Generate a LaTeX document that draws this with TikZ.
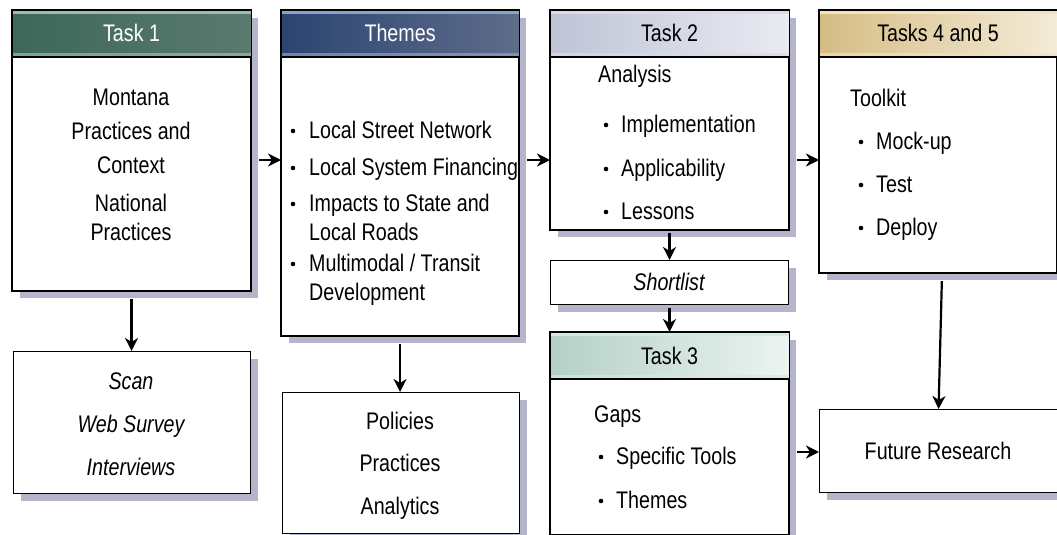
\documentclass[tikz,border=0pt]{standalone}
\usepackage{fontspec}
\setmainfont{Liberation Sans}[FakeStretch=0.82]
\usetikzlibrary{arrows.meta,shadows,calc}

\definecolor{shadowcol}{HTML}{B4B4CA}
\definecolor{tealL}{HTML}{3D6858}
\definecolor{tealR}{HTML}{5A7A70}
\definecolor{tealS}{HTML}{9DBBB2}
\definecolor{navyL}{HTML}{2B4571}
\definecolor{navyR}{HTML}{5F6C8A}
\definecolor{navyS}{HTML}{8CA3C8}
\definecolor{greyL}{HTML}{BFC3D5}
\definecolor{greyR}{HTML}{EAEBF2}
\definecolor{greyS}{HTML}{D9DCE8}
\definecolor{sandL}{HTML}{D5BC84}
\definecolor{sandR}{HTML}{F4ECD8}
\definecolor{sandS}{HTML}{F1E3C0}
\definecolor{mintL}{HTML}{B4D0C6}
\definecolor{mintR}{HTML}{ECF4F1}
\definecolor{mintS}{HTML}{D6E8E2}

\tikzset{
  boxnode/.style={draw=black, line width=1.1pt, fill=white, anchor=north west,
    inner sep=0pt, general shadow={fill=shadowcol, shadow xshift=7pt, shadow yshift=-7pt}},
  txt/.style={font=\fontsize{24}{28}\selectfont, inner sep=0pt},
  itxt/.style={txt, font=\fontsize{24}{28}\selectfont\itshape},
  hdr/.style={font=\fontsize{24}{28}\selectfont, inner sep=0pt, anchor=base},
  dot/.style={circle, fill=black, inner sep=0pt, minimum size=4.6pt},
  arr/.style={line width=2.2pt, -{Stealth[length=13pt, width=13pt, inset=4pt]}}
}

% header band of a task box: node, left colour, right colour, strip colour, title, title colour
\newcommand\hdrband[6]{%
  \fill[left color=#2, right color=#3] (#1.north west) rectangle ([yshift=-47pt]#1.north east);
  \fill[#4] (#1.north west) rectangle ([yshift=-4pt]#1.north east);
  \fill[#4, opacity=0.7] ([yshift=-43pt]#1.north west) rectangle ([yshift=-47pt]#1.north east);
  \draw[line width=1.1pt] ([yshift=-47pt]#1.north west) -- ([yshift=-47pt]#1.north east);
  \draw[line width=1.1pt] (#1.north west) rectangle (#1.south east);
  \node[hdr, text=#6] (#1-title) at ([yshift=-32pt]#1.north) {#5};
}

\begin{document}
\begin{tikzpicture}[x=1pt, y=-1pt]
\useasboundingbox (0,0) rectangle (1057,535);

% boxes
\node[boxnode, minimum width=238pt, minimum height=280pt] (t1) at (12,10) {};
\node[boxnode, minimum width=237pt, minimum height=325pt] (th) at (281,10) {};
\node[boxnode, minimum width=238pt, minimum height=219pt] (t2) at (550,10) {};
\node[boxnode, minimum width=237pt, minimum height=262pt] (t45) at (819,10) {};
\node[boxnode, minimum width=238pt, minimum height=44pt] (sl) at (550,260) {};
\node[boxnode, minimum width=238pt, minimum height=202pt] (t3) at (550,332) {};
\node[boxnode, minimum width=237pt, minimum height=142pt] (scan) at (13,351) {};
\node[boxnode, minimum width=237pt, minimum height=141pt] (pol) at (282,392) {};
\node[boxnode, minimum width=238pt, minimum height=83pt] (fr) at (819,409) {};

% header bands
\hdrband{t1}{tealL}{tealR}{tealS}{Task 1}{white}
\hdrband{th}{navyL}{navyR}{navyS}{Themes}{white}
\hdrband{t2}{greyL}{greyR}{greyS}{Task 2}{black}
\hdrband{t45}{sandL}{sandR}{sandS}{Tasks 4 and 5}{black}
\hdrband{t3}{mintL}{mintR}{mintS}{Task 3}{black}

% Task 1 contents (baselines)
\node[txt, anchor=base] (t1a) at (131,105) {Montana};
\node[txt, anchor=base] (t1b) at (131,139) {Practices and};
\node[txt, anchor=base] (t1c) at (131,173) {Context};
\node[txt, anchor=base] (t1d) at (131,211) {National};
\node[txt, anchor=base] (t1e) at (131,240) {Practices};

% Themes contents
\node[dot] (thb1) at (293,131) {};
\node[txt, anchor=base west] (tha) at (309,138) {Local Street Network};
\node[dot] (thb2) at (293,168) {};
\node[txt, anchor=base west] (thc) at (309,175) {Local System Financing};
\node[dot] (thb3) at (293,204) {};
\node[txt, anchor=base west] (thd) at (309,211) {Impacts to State and};
\node[txt, anchor=base west] (the) at (309,240) {Local Roads};
\node[dot] (thb4) at (293,264) {};
\node[txt, anchor=base west] (thf) at (309,271) {Multimodal / Transit};
\node[txt, anchor=base west] (thg) at (309,300) {Development};

% Task 2 contents
\node[txt, anchor=base west] (t2a) at (598,82) {Analysis};
\node[dot] (t2b1) at (606,125) {};
\node[txt, anchor=base west] (t2b) at (621,132) {Implementation};
\node[dot] (t2b2) at (606,169) {};
\node[txt, anchor=base west] (t2c) at (621,176) {Applicability};
\node[dot] (t2b3) at (606,212) {};
\node[txt, anchor=base west] (t2d) at (621,219) {Lessons};

% Tasks 4 and 5 contents
\node[txt, anchor=base west] (t45a) at (850,106) {Toolkit};
\node[dot] (t45b1) at (861,142) {};
\node[txt, anchor=base west] (t45b) at (876,149) {Mock-up};
\node[dot] (t45b2) at (861,185) {};
\node[txt, anchor=base west] (t45c) at (876,192) {Test};
\node[dot] (t45b3) at (861,228) {};
\node[txt, anchor=base west] (t45d) at (876,235) {Deploy};

% Shortlist
\node[itxt, anchor=base] (sla) at (669,290) {Shortlist};

% Task 3 contents
\node[txt, anchor=base west] (t3a) at (594,422) {Gaps};
\node[dot] (t3b1) at (601,457) {};
\node[txt, anchor=base west] (t3b) at (616,464) {Specific Tools};
\node[dot] (t3b2) at (601,501) {};
\node[txt, anchor=base west] (t3c) at (616,508) {Themes};

% Scan box
\node[itxt, anchor=base] (sca) at (131,389) {Scan};
\node[itxt, anchor=base] (scb) at (131,432) {Web Survey};
\node[itxt, anchor=base] (scc) at (131,475) {Interviews};

% Policies box
\node[txt, anchor=base] (pola) at (400,429) {Policies};
\node[txt, anchor=base] (polb) at (400,471) {Practices};
\node[txt, anchor=base] (polc) at (400,514) {Analytics};

% Future research
\node[txt, anchor=base] (fra) at (938,459) {Future Research};

% connectors
\coordinate (rowA) at (0,160);
\coordinate (rowB) at (0,452);
\draw[arr, shorten <=8pt] (t1.east |- rowA) -- (th.west |- rowA);
\draw[arr, shorten <=8pt] (th.east |- rowA) -- (t2.west |- rowA);
\draw[arr, shorten <=8pt] (t2.east |- rowA) -- (t45.west |- rowA);
\draw[arr, shorten <=8pt] (t3.east |- rowB) -- (fr.west |- rowB);
\draw[arr, shorten <=8pt] (t1.south) -- (t1.south |- scan.north);
\draw[arr, shorten <=8pt] (th.south) -- (th.south |- pol.north);
\draw[arr, shorten <=3pt] (t2.south) -- (t2.south |- sl.north);
\draw[arr, shorten <=3pt] (sl.south) -- (sl.south |- t3.north);
\draw[arr, shorten <=8pt] ([xshift=4pt]t45.south) -- (fr.north);
\end{tikzpicture}
\end{document}
